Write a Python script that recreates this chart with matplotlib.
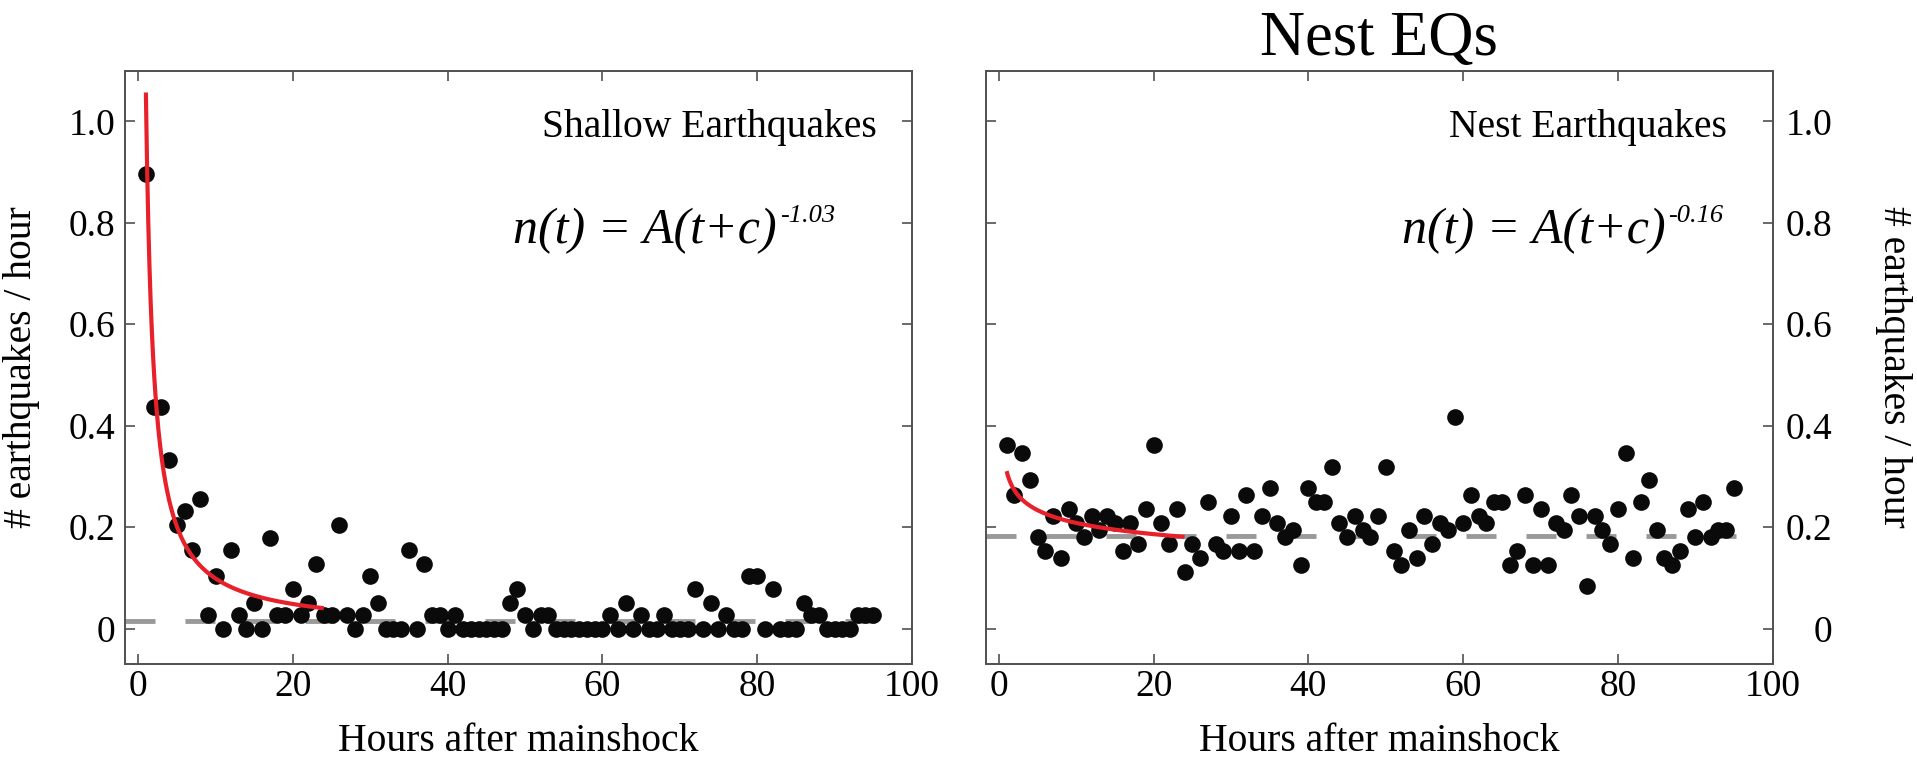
import matplotlib
matplotlib.use("Agg")
import matplotlib.pyplot as plt
import numpy as np

plt.rcParams["font.family"] = ["Liberation Serif", "DejaVu Serif"]
plt.rcParams["lines.scale_dashes"] = False

# ---- data -------------------------------------------------------------
hours = list(range(1, 96))

shallow_rate = [
    0.897, 0.436, 0.436, 0.333, 0.205, 0.231, 0.154, 0.256, 0.026, 0.103,
    0.000, 0.154, 0.026, 0.000, 0.051, 0.000, 0.179, 0.026, 0.026, 0.077,
    0.026, 0.051, 0.128, 0.026, 0.026, 0.205, 0.026, 0.000, 0.026, 0.103,
    0.051, 0.000, 0.000, 0.000, 0.154, 0.000, 0.128, 0.026, 0.026, 0.000,
    0.026, 0.000, 0.000, 0.000, 0.000, 0.000, 0.000, 0.051, 0.077, 0.026,
    0.000, 0.026, 0.026, 0.000, 0.000, 0.000, 0.000, 0.000, 0.000, 0.000,
    0.026, 0.000, 0.051, 0.000, 0.026, 0.000, 0.000, 0.026, 0.000, 0.000,
    0.000, 0.077, 0.000, 0.051, 0.000, 0.026, 0.000, 0.000, 0.103, 0.103,
    0.000, 0.077, 0.000, 0.000, 0.000, 0.051, 0.026, 0.026, 0.000, 0.000,
    0.000, 0.000, 0.026, 0.026, 0.026,
]

nest_rate = [
    0.361, 0.264, 0.347, 0.292, 0.181, 0.153, 0.222, 0.139, 0.236, 0.208,
    0.181, 0.222, 0.194, 0.222, 0.208, 0.153, 0.208, 0.167, 0.236, 0.361,
    0.208, 0.167, 0.236, 0.111, 0.167, 0.139, 0.250, 0.167, 0.153, 0.222,
    0.153, 0.264, 0.153, 0.222, 0.278, 0.208, 0.181, 0.194, 0.125, 0.278,
    0.250, 0.250, 0.319, 0.208, 0.181, 0.222, 0.194, 0.181, 0.222, 0.319,
    0.153, 0.125, 0.194, 0.139, 0.222, 0.167, 0.208, 0.194, 0.417, 0.208,
    0.264, 0.222, 0.208, 0.250, 0.250, 0.125, 0.153, 0.264, 0.125, 0.236,
    0.125, 0.208, 0.194, 0.264, 0.222, 0.083, 0.222, 0.194, 0.167, 0.236,
    0.347, 0.139, 0.250, 0.292, 0.194, 0.139, 0.125, 0.153, 0.236, 0.181,
    0.250, 0.181, 0.194, 0.194, 0.278,
]

# Omori-law fits n(t) = A (t + c)^(-p)
shallow_fit = {"A": 1.057, "c": 0.0, "p": 1.03, "t_end": 24}
nest_fit = {"A": 0.300, "c": -0.19, "p": 0.16, "t_end": 24}

# background rates (dashed lines)
shallow_background = 0.014
nest_background = 0.183
background_end = 96

x_ticks = [0, 20, 40, 60, 80, 100]
x_tick_labels = ["0", "20", "40", "60", "80", "100"]
y_ticks = [0, 0.2, 0.4, 0.6, 0.8, 1.0]
y_tick_labels = ["0", "0.2", "0.4", "0.6", "0.8", "1.0"]

# ---- style ------------------------------------------------------------
FRAME = "#505050"
DOT = "#0a0a0a"
FIT = "#e8202a"
BACK = "#999999"
XMIN, XMAX = -1.7, 100
YMIN, YMAX = -0.07, 1.1
TICK_FS = 27
LABEL_FS = 28.5
NOTE_FS = 28.5
EQ_FS = 36
SUP_FS = 19

fig = plt.figure(figsize=(19.17, 7.6), dpi=100)
ax1 = fig.add_axes([0.0652, 0.1263, 0.4105, 0.7807])
ax2 = fig.add_axes([0.5142, 0.1263, 0.4105, 0.7807])


def style_axes(ax):
    ax.set_xlim(XMIN, XMAX)
    ax.set_ylim(YMIN, YMAX)
    ax.set_xticks(x_ticks)
    ax.set_xticklabels(x_tick_labels)
    ax.set_yticks(y_ticks)
    ax.set_yticklabels(y_tick_labels)
    for s in ax.spines.values():
        s.set_color(FRAME)
        s.set_linewidth(1.4)
    ax.tick_params(direction="in", length=7, width=1.2, color=FRAME,
                   labelsize=TICK_FS, top=True, right=True,
                   bottom=True, left=True)
    ax.tick_params(axis="x", pad=4)
    ax.set_xlabel("Hours after mainshock", fontsize=LABEL_FS, va="baseline")
    ax.xaxis.set_label_coords(0.5, -0.1466)


def draw_panel(ax, rate, fit, background):
    ax.plot([XMIN, background_end], [background, background], color=BACK,
            lw=3.5, dashes=(21.6, 21.6), solid_capstyle="butt", zorder=1)
    ax.plot(hours, rate, "o", ms=12, color=DOT, mec="none", zorder=2)
    t = np.linspace(1, fit["t_end"], 300)
    ax.plot(t, fit["A"] * (t + fit["c"]) ** (-fit["p"]), color=FIT, lw=3,
            zorder=3, solid_capstyle="butt")


def draw_notes(ax, label, title_x, eq_x, exponent):
    ax.text(title_x, 0.969, label, fontsize=NOTE_FS,
            ha="left", va="baseline")
    main = ax.text(eq_x, 0.759, "n(t) = A(t+c)", fontsize=EQ_FS,
                   style="italic", ha="left", va="baseline")
    ax.annotate(exponent, xy=(1.0, 0.70), xycoords=main,
                xytext=(2, 0), textcoords="offset points",
                fontsize=SUP_FS, style="italic", ha="left", va="baseline")


style_axes(ax1)
style_axes(ax2)

draw_panel(ax1, shallow_rate, shallow_fit, shallow_background)
draw_panel(ax2, nest_rate, nest_fit, nest_background)

draw_notes(ax1, "Shallow Earthquakes", 52.2, 48.5, "-1.03")
draw_notes(ax2, "Nest Earthquakes", 58.2, 52.1, "-0.16")

# left panel: labels on the left
ax1.tick_params(axis="y", pad=7, labelleft=True, labelright=False)
ax1.set_ylabel("# earthquakes / hour", fontsize=LABEL_FS, va="center")
ax1.yaxis.set_label_coords(-0.131, 0.5)

# right panel: labels on the right, right-aligned
ax2.tick_params(axis="y", pad=43, labelleft=False, labelright=True)
for lab in ax2.get_yticklabels():
    lab.set_horizontalalignment("right")
ax2.yaxis.set_label_position("right")
ax2.set_ylabel("# earthquakes / hour", fontsize=LABEL_FS, rotation=270,
               va="center")
ax2.yaxis.set_label_coords(1.153, 0.5)
ax2.set_title("Nest EQs", fontsize=45, pad=11)

fig.savefig("out.png", dpi=100)
